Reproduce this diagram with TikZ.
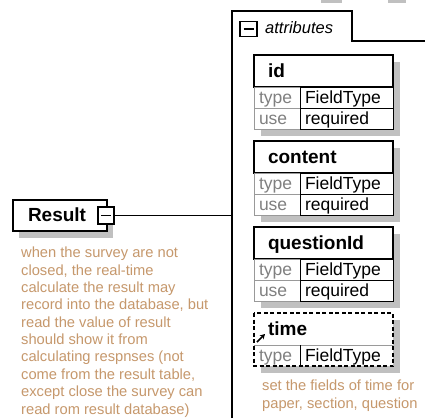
\documentclass[tikz,border=0pt]{standalone}
\usepackage{fontspec}
\setmainfont{Liberation Sans}
\usetikzlibrary{
    positioning,
    arrows.meta,
    backgrounds
}
\definecolor{NoteTan}{RGB}{198,152,108}
\definecolor{KeyGray}{RGB}{128,128,128}
\definecolor{ShadowGray}{RGB}{192,192,192}

\begin{document}
\begin{tikzpicture}[
    x=1pt, y=-1pt,
    frame/.style={line width=1.2pt},
    elem/.style={rectangle, draw, line width=1.2pt, fill=white, align=left, inner xsep=15pt, text width=64pt, minimum height=31pt, text height=14pt, text depth=3pt, outer sep=0pt, font=\fontsize{19}{22}\selectfont\bfseries},
    hdr/.style={rectangle, draw, line width=1.2pt, fill=white, align=left, inner xsep=14pt, text width=111pt, minimum height=32pt, text height=15pt, text depth=3pt, outer sep=0pt, font=\fontsize{19}{22}\selectfont\bfseries},
    keycell/.style={rectangle, draw=KeyGray!80, line width=1pt, fill=white, align=left, inner xsep=5pt, inner ysep=0pt, text width=36pt, minimum height=21pt, text height=13.5pt, text depth=2.5pt, outer sep=0pt, text=KeyGray, font=\fontsize{17.5}{20}\selectfont},
    valcell/.style={keycell, draw=black, text=black, text width=83pt},
    minus/.style={rectangle, draw, line width=1.2pt, fill=white, inner sep=0pt, minimum width=16pt, minimum height=17pt},
    note/.style={align=left, inner sep=0pt, text=NoteTan, font=\fontsize{14.7}{17.35}\selectfont},
    shade/.style={fill=ShadowGray},
]
\useasboundingbox (0,0) rectangle (425,418);

% attribute group frame with its tab
\draw[frame] (232,418) -- (232,11) -- (352,11) -- (352,41) -- (425,41);
\node[minus, minimum width=17pt, minimum height=15pt] (am) at (248.5,29) {\rule{10pt}{1.2pt}};
\node[anchor=west, inner sep=0pt, font=\fontsize{16.5}{20}\selectfont\itshape] (attrlbl) at (265,28) {attributes};
\fill[shade] (321,0) rectangle (342,2.5);
\fill[shade] (388,0) rectangle (406,2.5);

% element
\node[elem, anchor=north west] (res) at (13,200) {Result};
\node[minus] (rm) at (106,215.5) {\rule{10pt}{1.2pt}};
\coordinate (attr) at (232,215.5);
\draw[frame] (rm.east) -- (attr);
\node[note, anchor=north west] (resnote) at (21,247) {when the survey are not\\closed, the real-time\\calculate the result may\\record into the database, but\\read the value of result\\should show it from\\calculating respnses (not\\come from the result table,\\except close the survey can\\read rom result database)};

% id
\node[hdr, anchor=north west] (id) at (254,55) {id};
\node[keycell, anchor=north west] (idtk) at (id.south west) {type};
\node[valcell, right=0pt of idtk] (idtv) {FieldType};
\node[keycell, below=0pt of idtk] (iduk) {use};
\node[valcell, right=0pt of iduk] (iduv) {required};

% content
\node[hdr, anchor=north west] (content) at (254,141) {content};
\node[keycell, anchor=north west] (cotk) at (content.south west) {type};
\node[valcell, right=0pt of cotk] (cotv) {FieldType};
\node[keycell, below=0pt of cotk] (couk) {use};
\node[valcell, right=0pt of couk] (couv) {required};

% questionId
\node[hdr, anchor=north west] (qid) at (254,227) {questionId};
\node[keycell, anchor=north west] (qtk) at (qid.south west) {type};
\node[valcell, right=0pt of qtk] (qtv) {FieldType};
\node[keycell, below=0pt of qtk] (quk) {use};
\node[valcell, right=0pt of quk] (quv) {required};

% time (optional)
\node[hdr, draw=none, anchor=north west] (time) at (254,313) {time};
\node[keycell, draw=none, anchor=north west] (timetk) at (time.south west) {type};
\node[valcell, draw=none, right=0pt of timetk] (timetv) {FieldType};
\draw[KeyGray!80, line width=1pt] (timetk.north west) -- (timetv.north east);
\draw[line width=1pt] (timetv.north west) -- (timetv.south west);
\draw[line width=1.2pt, dash pattern=on 4pt off 2.5pt] (time.north west) rectangle (timetv.south east);
\draw[line width=1.5pt, -{Stealth[length=5pt, width=5.5pt]}] ([shift={(3,-3)}]time.south west) -- ++(8,-8);
\node[note, anchor=north west] (timenote) at (262,380) {set the fields of time for\\paper, section, question};

\begin{scope}[on background layer]
\fill[white] (0,0) rectangle (425,418);
\fill[shade] ([shift={(6,7)}]res.north west) rectangle ([shift={(6,7)}]res.south east);
\fill[shade] ([shift={(7,7)}]id.north west) rectangle ([shift={(7,7)}]iduv.south east);
\fill[shade] ([shift={(7,7)}]content.north west) rectangle ([shift={(7,7)}]couv.south east);
\fill[shade] ([shift={(7,7)}]qid.north west) rectangle ([shift={(7,7)}]quv.south east);
\fill[shade] ([shift={(7,7)}]time.north west) rectangle ([shift={(7,7)}]timetv.south east);
\end{scope}
\end{tikzpicture}
\end{document}
